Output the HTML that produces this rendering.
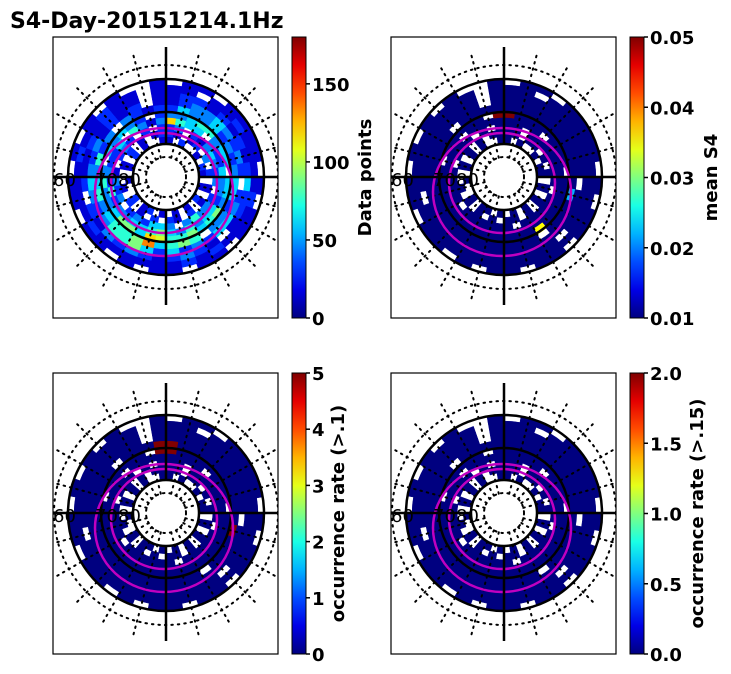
<!DOCTYPE html>
<html><head><meta charset="utf-8">
<style>
body{margin:0;background:#fff;}
svg{display:block;font-family:"DejaVu Sans","Liberation Sans",sans-serif;}
.tk{font-size:18px;font-weight:bold;}
</style></head>
<body>
<svg id="fig" width="731" height="674" viewBox="0 0 731 674" xmlns="http://www.w3.org/2000/svg">
<text x="10" y="28" font-size="22" font-weight="bold">S4-Day-20151214.1Hz</text>
</svg>
<script>
// Data: rings (inner->outer) x 36 sectors (clockwise from top). digit = count level (x15), '.' = no data
const countRings = [
"1.2..1.21.1.2.1.1.1.21.2..1.1.2.1..1",
"21.12.3.2.1.1.2.12.2.1.2.1..1.2.1.12",
"23.2134323.23353.344232.3231.232.2.2",
"8544.32243324435346544332523224.5313",
"33455344.4436546557846643353.43432.2",
"24334232344233.5654965543543523.3212",
"123343232.234423242465532343231212.1",
"1221212124221.12321232312.21121211.1",
"11.1121111211121211111121111211211.1",
".11.1111.1.11.11.11.1.11.11.1.1.1..1"
];
const countScale = [0, 180];
const countTicks = [0, 50, 100, 150];
const s4Scale = [0.01, 0.05];
const s4Ticks = [0.01, 0.02, 0.03, 0.04, 0.05];
const s4Highlights = [[4, 0, 0.05], [4, 35, 0.05], [5, 10, 0.022], [4, 14, 0.035]];
const occ1Scale = [0, 5];
const occ1Ticks = [0, 1, 2, 3, 4, 5];
const occ1Highlights = [[4, 0, 5], [4, 35, 5], [5, 0, 5], [5, 35, 5], [5, 10, 5]];
const occ2Scale = [0, 2];
const occ2Ticks = [0.0, 0.5, 1.0, 1.5, 2.0];
const occ2Highlights = [];

const NS = "http://www.w3.org/2000/svg";
const svg = document.getElementById('fig');
function el(tag, attrs, parent){const e=document.createElementNS(NS,tag);for(const k in attrs)e.setAttribute(k,attrs[k]);(parent||svg).appendChild(e);return e;}
function jet(t){t=Math.max(0,Math.min(1,t));
 const r=Math.max(0,Math.min(1,1.5-Math.abs(4*t-3))),g=Math.max(0,Math.min(1,1.5-Math.abs(4*t-2))),b=Math.max(0,Math.min(1,1.5-Math.abs(4*t-1)));
 return `rgb(${Math.round(r*255)},${Math.round(g*255)},${Math.round(b*255)})`;}
const R0=34, DR=6.4, NSEC=36;
function sectorPath(cx,cy,r1,r2,a1,a2){
 const p=(r,a)=>[cx+r*Math.sin(a),cy-r*Math.cos(a)];
 const [x1,y1]=p(r1,a1),[x2,y2]=p(r2,a1),[x3,y3]=p(r2,a2),[x4,y4]=p(r1,a2);
 return `M${x1},${y1}L${x2},${y2}A${r2},${r2} 0 0 1 ${x3},${y3}L${x4},${y4}A${r1},${r1} 0 0 0 ${x1},${y1}Z`;}

function panel(idx,bx,by,valueFn,scale,ticks,fmt,label,labelX){
 const bw=225,bh=281,cx=bx+113,cy=by+140;
 const g=el('g',{});
 
 
 const cid='clip'+idx;
 const cp=el('clipPath',{id:cid},g);el('rect',{x:bx,y:by,width:bw,height:bh},cp);
 const inner=el('g',{'clip-path':`url(#${cid})`},g);
 for(let ri=0;ri<countRings.length;ri++){
  for(let si=0;si<NSEC;si++){
   const v=valueFn(ri,si); if(v===null)continue;
   const a1=si*2*Math.PI/NSEC,a2=(si+1)*2*Math.PI/NSEC+0.01;
   const col=jet((v-scale[0])/(scale[1]-scale[0]));
   const c=el('path',{d:sectorPath(cx,cy,R0+ri*DR,R0+(ri+1)*DR+0.3,a1,a2),fill:col,stroke:col,'stroke-width':0.5},inner);
   
   
  }
 }
 const dot={stroke:'#000','stroke-width':2,'stroke-dasharray':'1.5 5',fill:'none','stroke-linecap':'round'};
 for(let k=0;k<24;k++){if(k%6===0)continue;const a=k*Math.PI/12;
  el('line',Object.assign({x1:cx+20*Math.sin(a),y1:cy-20*Math.cos(a),x2:cx+130*Math.sin(a),y2:cy-130*Math.cos(a)},dot),inner);}
 el('circle',Object.assign({cx,cy,r:112},dot),inner);
 el('circle',Object.assign({cx,cy,r:20},dot),inner);
 [33,65,98].forEach(r=>el('circle',{cx,cy,r,fill:'none',stroke:'#000','stroke-width':2.5},inner));
 el('ellipse',{cx:cx-2,cy:cy+15,rx:69,ry:64,fill:'none',stroke:'#c000c0','stroke-width':2.5},inner);
 el('ellipse',{cx:cx-2,cy:cy+6,rx:53,ry:50,fill:'none',stroke:'#c000c0','stroke-width':2.5},inner);
 el('line',{x1:cx,y1:by+10,x2:cx,y2:cy-33,stroke:'#000','stroke-width':2.5},inner);
 el('line',{x1:cx,y1:cy+33,x2:cx,y2:by+bh-13,stroke:'#000','stroke-width':2.5},inner);
 el('line',{x1:bx,y1:cy,x2:cx-33,y2:cy,stroke:'#000','stroke-width':2.5},inner);
 el('line',{x1:cx+33,y1:cy,x2:bx+bw,y2:cy,stroke:'#000','stroke-width':2.5},inner);
 [['60',bx],['70',bx+42],['80',bx+65]].forEach(([t,x])=>{const tx=el('text',{x,y:cy+9,'font-size':18},inner);tx.textContent=t;
  
  });
 el('rect',{x:bx,y:by,width:bw,height:bh,fill:'none',stroke:'#000','stroke-width':1.2},g);
 const cbx=bx+239,cbw=14;
 const gid='grad'+idx;const lg=el('linearGradient',{id:gid,x1:0,y1:1,x2:0,y2:0},g);
 for(let i=0;i<=10;i++)el('stop',{offset:i/10,'stop-color':jet(i/10)},lg);
 const cb=el('rect',{x:cbx,y:by,width:cbw,height:bh,fill:`url(#${gid})`,stroke:'#000','stroke-width':1},g);
 
 
 ticks.forEach(t=>{const y=by+bh-(t-scale[0])/(scale[1]-scale[0])*bh;
  el('line',{x1:cbx+cbw,y1:y,x2:cbx+cbw+4,y2:y,stroke:'#000','stroke-width':1.5},g);
  const tx=el('text',{x:cbx+cbw+6,y:y+7,class:'tk'},g);tx.textContent=fmt(t);
  
  });
 const lt=el('text',{x:labelX,y:by+bh/2,class:'tk','text-anchor':'middle',transform:`rotate(-90 ${labelX} ${by+bh/2})`,'dominant-baseline':'middle'},g);
 lt.textContent=label;
 
 
}
function lvl(ri,si){const c=countRings[ri][si];return (c===undefined||c==='.')?null:parseInt(c,10);}
function withHi(hi,base){return (ri,si)=>{const l=lvl(ri,si);if(l===null)return null;for(const h of hi)if(h[0]===ri&&h[1]===si)return h[2];return base;};}
panel(1,53,37,(ri,si)=>{const l=lvl(ri,si);return l===null?null:l*15;},countScale,countTicks,t=>String(t),'Data points',366);
panel(2,391,37,withHi(s4Highlights,0.01),s4Scale,s4Ticks,t=>t.toFixed(2),'mean S4',712);
panel(3,53,373,withHi(occ1Highlights,0),occ1Scale,occ1Ticks,t=>String(t),'occurrence rate (>.1)',339);
panel(4,391,373,withHi(occ2Highlights,0),occ2Scale,occ2Ticks,t=>t.toFixed(1),'occurrence rate (>.15)',698);
</script>
</body></html>
